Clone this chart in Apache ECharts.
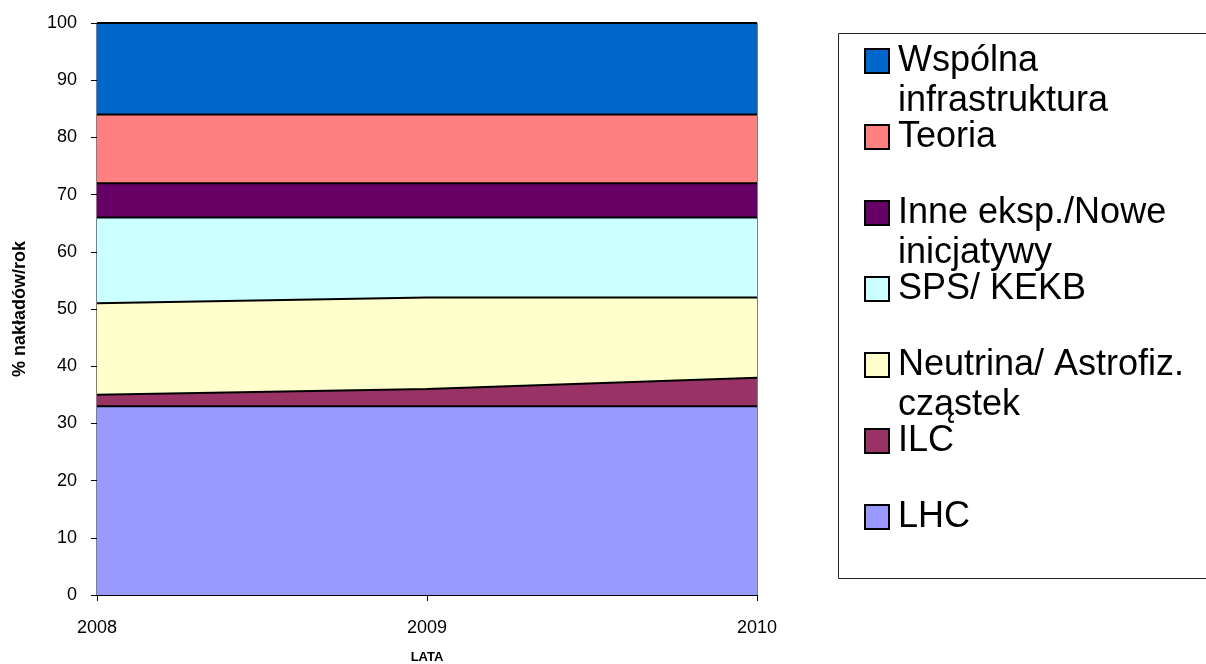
<!DOCTYPE html>
<html>
  <head>
    <meta charset="utf-8">
    <title>nakłady</title>
    <script src="https://cdn.jsdelivr.net/npm/echarts@6/dist/echarts.min.js"></script>
    <style>
      html, body { margin: 0; padding: 0; background: #fff; }
      #box { width: 1206px; height: 664px; }
    </style>
  </head>
  <body>
    <div id="box"></div>
    <script type="text/javascript">
    // lata i dane (% nakładów w roku)
    var years = ["2008", "2009", "2010"];
    var names = ["LHC", "ILC", "Neutrina/ Astrofiz.\ncząstek", "SPS/ KEKB", "Inne eksp./Nowe\ninicjatywy", "Teoria", "Wspólna\ninfrastruktura"];
    var colors = ["#9999FF", "#993366", "#FFFFCC", "#CCFFFF", "#660066", "#FF8080", "#0066CC"];
    var lhc = [33, 33, 33];
    var ilc = [2, 3, 5];
    var neutrina = [16, 16, 14];
    var sps = [15, 14, 14];
    var inne = [6, 6, 6];
    var teoria = [12, 12, 12];
    var wspolna = [16, 16, 16];
    var values = [lhc, ilc, neutrina, sps, inne, teoria, wspolna];

    var font = "Liberation Sans, Arial, sans-serif";
    var myChart = echarts.init(document.getElementById("box"), null, { renderer: "canvas" });

    var series = [];
    for (var i = 0; i < names.length; i++) {
      series.push({
        name: names[i],
        type: "line",
        stack: "Total",
        symbol: "none",
        color: colors[i],
        lineStyle: { color: "#000", width: 2 },
        areaStyle: { color: colors[i], opacity: 1 },
        data: values[i],
      });
    }

    // legenda od gory: odwrotnie niz stos
    var legendData = [];
    for (var j = names.length - 1; j >= 0; j--) {
      legendData.push({ name: names[j], itemStyle: { color: colors[j] } });
    }

    var option = {
      animation: false,
      backgroundColor: "#fff",
      grid: {
        left: 97,
        right: 449,
        top: 23,
        bottom: 69,
        outerBoundsMode: "none",
        show: true,
        borderColor: "#000",
        borderWidth: 1,
        backgroundColor: "transparent",
      },
      // ramka legendy (prawa krawedz poza obrazkiem)
      graphic: [
        {
          type: "polyline",
          shape: { points: [[1220, 33.5], [838.5, 33.5], [838.5, 578.5], [1220, 578.5]] },
          style: { fill: null, stroke: "#222", lineWidth: 1 },
          z: -1,
        },
      ],
      legend: {
        orient: "vertical",
        left: 864,
        top: 1,
        padding: 0,
        itemGap: -44,
        itemWidth: 24,
        itemHeight: 24,
        icon: "rect",
        selectedMode: false,
        itemStyle: { borderColor: "#000", borderWidth: 2 },
        textStyle: { fontSize: 36, lineHeight: 40, color: "#000", fontFamily: font, padding: [0, 0, 0, 4] },
        formatter: function (n) {
          return "\n" + n + (n.indexOf("\n") < 0 ? "\n" : "");
        },
        data: legendData,
      },
      xAxis: {
        type: "category",
        boundaryGap: false,
        data: years,
        name: "LATA",
        nameLocation: "middle",
        nameGap: 56,
        nameTextStyle: { fontSize: 13, fontWeight: "bold", color: "#000", fontFamily: font },
        axisLine: { lineStyle: { color: "#000", width: 1 } },
        axisTick: { show: true, length: 6, lineStyle: { color: "#000" } },
        axisLabel: { fontSize: 18, color: "#000", margin: 24, fontFamily: font },
        splitLine: { show: false },
      },
      yAxis: {
        type: "value",
        min: 0,
        max: 100,
        interval: 10,
        name: "% nakładów/rok",
        nameLocation: "middle",
        nameRotate: 90,
        nameGap: 68,
        nameTextStyle: { fontSize: 18, fontWeight: "bold", color: "#000", fontFamily: font },
        axisLine: { show: true, lineStyle: { color: "#000", width: 1 } },
        axisTick: { show: true, length: 6, lineStyle: { color: "#000" } },
        axisLabel: { fontSize: 18, color: "#000", margin: 20, fontFamily: font },
        splitLine: { show: false },
      },
      series: series,
    };

    myChart.setOption(option);
    window.addEventListener("resize", myChart.resize);
    </script>
  </body>
</html>
